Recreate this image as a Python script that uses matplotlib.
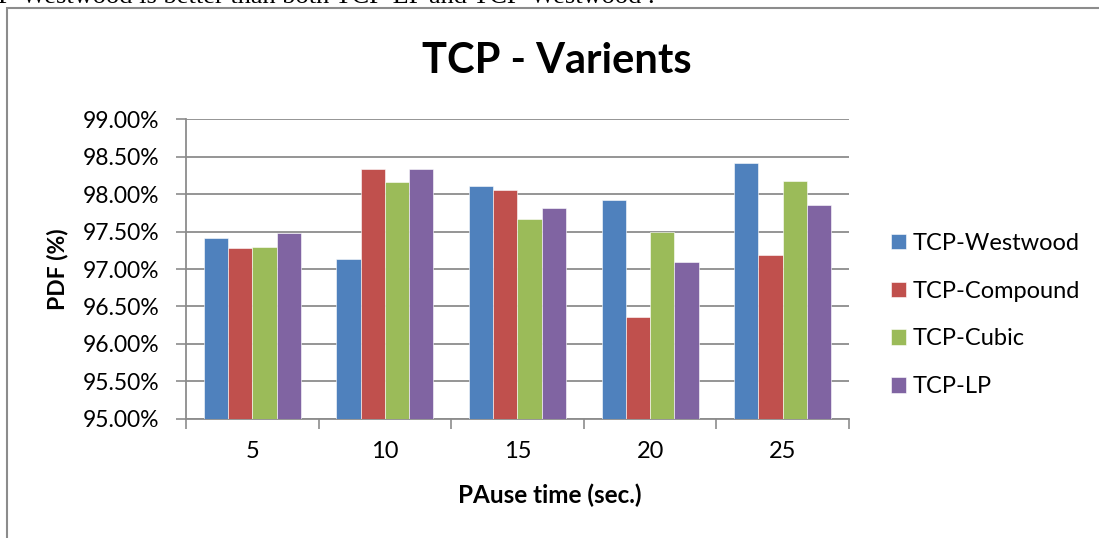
import numpy as np
import matplotlib.pyplot as plt
from matplotlib.patches import Rectangle
from matplotlib.ticker import FuncFormatter

plt.rcParams['font.family'] = ['Lato', 'DejaVu Sans']

pause_times = ['5', '10', '15', '20', '25']
series_names = ['TCP-Westwood', 'TCP-Compound', 'TCP-Cubic', 'TCP-LP']
westwood = [97.42, 97.13, 98.11, 97.92, 98.41]
compound = [97.28, 98.34, 98.06, 96.36, 97.19]
cubic = [97.30, 98.16, 97.67, 97.50, 98.18]
lp = [97.48, 98.34, 97.82, 97.10, 97.85]
colors = ['#4F81BD', '#C0504D', '#9BBB59', '#8064A2']

fig = plt.figure(figsize=(10.99, 5.38), dpi=100)
ax = fig.add_axes([0.1692, 0.2212, 0.6033, 0.5576])

x = np.arange(len(pause_times))
w = 0.183
for i, (vals, name) in enumerate(zip([westwood, compound, cubic, lp], series_names)):
    ax.bar(x + (i - 1.5) * w, np.array(vals) - 95.0, w, bottom=95.0,
           color=colors[i], edgecolor='white', linewidth=0.4, label=name, zorder=3)

ax.set_ylim(95, 99)
ax.set_yticks(np.arange(95, 99.01, 0.5))
ax.yaxis.set_major_formatter(FuncFormatter(lambda v, p: '%.2f%%' % v))
ax.set_xlim(-0.5, 4.5)
ax.set_xticks(x)
ax.set_xticklabels(pause_times)
ax.set_xticks(np.arange(-0.5, 4.6, 1), minor=True)
ax.tick_params(axis='x', which='major', length=0, pad=16, labelsize=17)
ax.tick_params(axis='x', which='minor', length=7, width=1.2, color='#8c8c8c', direction='out')
ax.tick_params(axis='y', length=7, width=1.2, color='#8c8c8c', labelsize=16.5, pad=12)
ax.grid(axis='y', color='#8c8c8c', linewidth=1.3, zorder=0)
ax.set_axisbelow(True)
for s in ['top', 'right']:
    ax.spines[s].set_visible(False)
for s in ['left', 'bottom']:
    ax.spines[s].set_color('#8c8c8c')
    ax.spines[s].set_linewidth(1.3)

ax.set_xlabel('PAuse time (sec.)', fontsize=17.5, fontweight='bold')
ax.xaxis.set_label_coords(0.5, 1 - 495 / 538, transform=fig.transFigure)
ax.set_ylabel('PDF (%)', fontsize=16.5, fontweight='bold')
ax.yaxis.set_label_coords(58 / 1099, 0.5, transform=fig.transFigure)
ax.xaxis.label.set_va('center')
ax.yaxis.label.set_va('center')
fig.text(557 / 1099, 0.887, 'TCP - Varients', ha='center', va='center',
         fontsize=30, fontweight='bold')

ax.legend(loc='center left', bbox_to_anchor=(0.791, 1 - 315 / 538), bbox_transform=fig.transFigure,
          frameon=False, fontsize=17, handlelength=0.64, handleheight=0.64,
          handletextpad=0.3, labelspacing=1.13)

# outer frame and the clipped sentence above it
fig.patches.append(Rectangle((7 / 1099, -0.05), 1.1, 1.05 - 8 / 538, transform=fig.transFigure,
                             fill=False, edgecolor='#8c8c8c', linewidth=1.5))
fig.text(-0.002, 1 - 3 / 538, 'P-Westwood is better than both TCP-LP and TCP-Westwood .',
         fontsize=19, family='Liberation Serif', va='baseline', ha='left')

fig.savefig('out.png', dpi=100)
